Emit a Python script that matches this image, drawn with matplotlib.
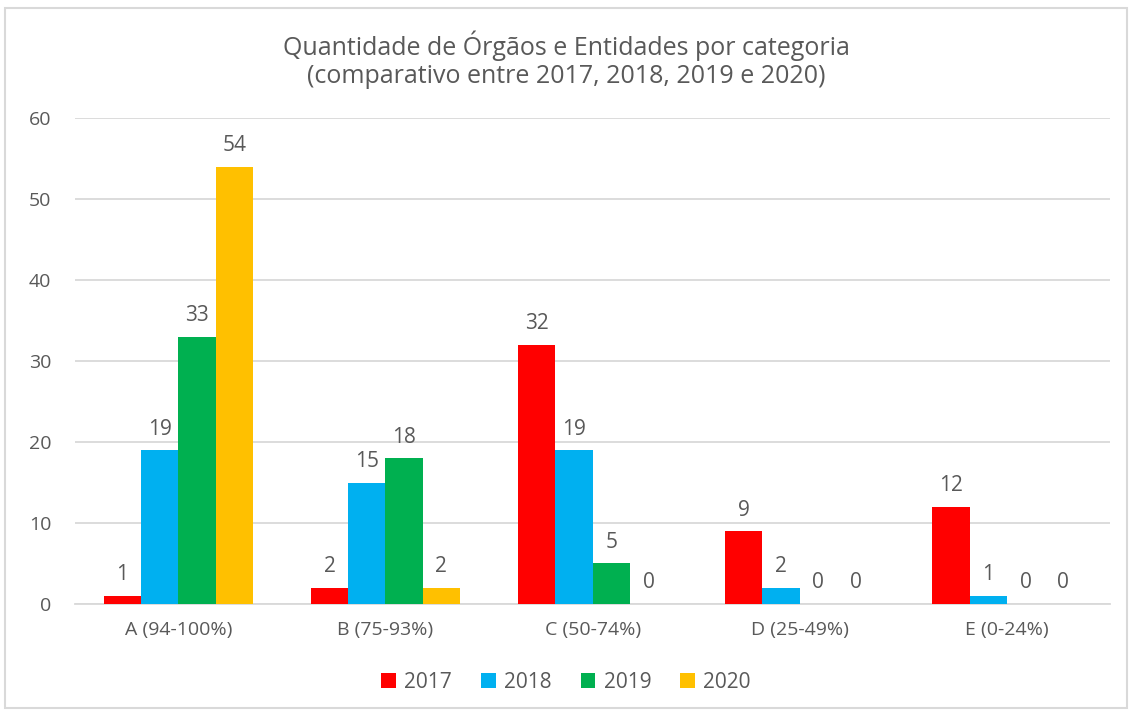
import numpy as np
import matplotlib.pyplot as plt
from matplotlib.patches import Rectangle

# dados
categorias = ["A (94-100%)", "B (75-93%)", "C (50-74%)", "D (25-49%)", "E (0-24%)"]
anos = ["2017", "2018", "2019", "2020"]
v2017 = [1, 2, 32, 9, 12]
v2018 = [19, 15, 19, 2, 1]
v2019 = [33, 18, 5, 0, 0]
v2020 = [54, 2, 0, 0, 0]
cores = ["#FF0000", "#00B0F0", "#00B050", "#FFC000"]

plt.rcParams['font.family'] = ['Open Sans', 'DejaVu Sans']
texto = "#595959"

fig = plt.figure(figsize=(11.32, 7.11), dpi=100)
ax = fig.add_axes([0.066, 0.1505, 0.915, 0.6835])

x = np.arange(len(categorias))
w = 0.18
series = [v2017, v2018, v2019, v2020]
for i, (vals, cor, ano) in enumerate(zip(series, cores, anos)):
    pos = x + (i - 1.5) * w
    ax.bar(pos, vals, width=w, color=cor, label=ano, zorder=3)
    for xp, v in zip(pos, vals):
        ax.text(xp, v + 1.3, str(v), ha="center", va="bottom",
                fontsize=15, color=texto)

ax.set_ylim(0, 60)
ax.set_xlim(-0.5, len(categorias) - 0.5)
ax.set_yticks(range(0, 61, 10))
ax.set_xticks(x)
ax.set_xticklabels(categorias)
ax.tick_params(axis="both", length=0, labelsize=14, labelcolor=texto)
ax.tick_params(axis="y", pad=17)
ax.tick_params(axis="x", pad=12)
ax.grid(axis="y", color="#D9D9D9", linewidth=1.3, zorder=0)
for s in ["top", "right", "left"]:
    ax.spines[s].set_visible(False)
ax.spines["bottom"].set_color("#D9D9D9")
ax.spines["bottom"].set_linewidth(1.3)

fig.text(0.5, 0.916, "Quantidade de Órgãos e Entidades por categoria\n(comparativo entre 2017, 2018, 2019 e 2020)",
         ha="center", va="center", fontsize=18, color=texto, linespacing=1.2)

fig.legend(loc="center", bbox_to_anchor=(0.5, 0.04), ncol=4, frameon=False,
           fontsize=15, labelcolor=texto, handlelength=0.7, handleheight=0.7,
           handletextpad=0.4, columnspacing=1.4)

fig.patches.append(Rectangle((0.004, 0.004), 0.992, 0.985, transform=fig.transFigure,
                             fill=False, edgecolor="#D9D9D9", linewidth=1.5))

fig.savefig("out.png", dpi=100)
